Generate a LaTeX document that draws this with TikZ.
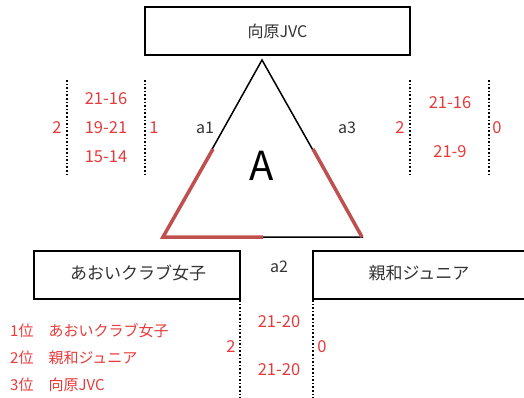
\documentclass[tikz,border=0pt]{standalone}
\usepackage{fontspec}
\setmainfont{Noto Sans CJK JP}
\definecolor{redtxt}{HTML}{E83A3A}
\definecolor{redseg}{HTML}{C0504D}
\definecolor{graytxt}{HTML}{333333}
\begin{document}
\begin{tikzpicture}[x=1pt,y=-1pt,
  teambox/.style={draw=black,line width=2pt,minimum height=48pt,inner sep=0pt,font=\fontsize{16}{19}\selectfont,text=graytxt},
  score/.style={text=redtxt,font=\fontsize{16.5}{19}\selectfont,inner sep=0pt},
  lbl/.style={text=graytxt,font=\fontsize{16}{19}\selectfont,inner sep=0pt},
  rank/.style={text=redtxt,font=\fontsize{15}{18}\selectfont,inner sep=0pt,anchor=west},
  sep/.style={dotted,line width=1.6pt},
  tri/.style={line width=1.5pt,black},
  hl/.style={line width=3.5pt,redseg}]
\useasboundingbox (0,0) rectangle (524,398);
\clip (0,0) rectangle (524,398);
% team boxes
\node[teambox,minimum width=265pt] (top) at (277.5,31.5) {向原JVC};
\node[teambox,minimum width=206pt] (bl) at (137,275) {};
\node[lbl,font=\fontsize{17}{20}\selectfont] (bltxt) at (138,273) {あおいクラブ女子};
\node[teambox,minimum width=216pt] (br) at (421,275) {};
\node[lbl,font=\fontsize{17}{20}\selectfont] (brtxt) at (419,273) {親和ジュニア};
% triangle
\coordinate (apex) at (262,60);
\coordinate (bL) at (163,237);
\coordinate (bR) at (362,237);
\draw[tri] (apex) -- (bL) -- (bR) -- cycle;
\coordinate (l1) at (213,149);
\coordinate (r1) at (313,149);
\coordinate (m1) at (263,237);
\draw[hl] (l1) -- (bL) -- (m1);
\draw[hl] (r1) -- (bR);
\node[text=black,font=\fontsize{40}{44}\selectfont,inner sep=0pt] (A) at (262,166) {A};
\node[lbl] (a1) at (205,128) {a1};
\node[lbl] (a3) at (347,128) {a3};
\node[lbl] (a2) at (279,267) {a2};
% separators
\coordinate (s1t) at (67,80); \coordinate (s1b) at (67,177);
\coordinate (s2t) at (145,80); \coordinate (s2b) at (145,177);
\coordinate (s3t) at (410,80); \coordinate (s3b) at (410,177);
\coordinate (s4t) at (489,80); \coordinate (s4b) at (489,177);
\coordinate (s5t) at (240,300); \coordinate (s5b) at (240,398);
\coordinate (s6t) at (313,300); \coordinate (s6b) at (313,398);
\draw[sep] (s1t) -- (s1b);
\draw[sep] (s2t) -- (s2b);
\draw[sep] (s3t) -- (s3b);
\draw[sep] (s4t) -- (s4b);
\draw[sep] (s5t) -- (s5b);
\draw[sep] (s6t) -- (s6b);
% scores a1
\node[score] (p1) at (57,128) {2};
\node[score] (g11) at (106,99) {21-16};
\node[score] (g12) at (106,128) {19-21};
\node[score] (g13) at (106,157) {15-14};
\node[score] (q1) at (154,128) {1};
% scores a3
\node[score] (p3) at (400,128) {2};
\node[score] (g31) at (450,103) {21-16};
\node[score] (g32) at (450,152) {21-9};
\node[score] (q3) at (497,128) {0};
% scores a2
\node[score] (p2) at (231,347) {2};
\node[score] (g21) at (279,322) {21-20};
\node[score] (g22) at (279,370) {21-20};
\node[score] (q2) at (322,347) {0};
% ranking
\node[rank] (r1t) at (10,331) {1位\hspace{1em}あおいクラブ女子};
\node[rank] (r2t) at (10,358) {2位\hspace{1em}親和ジュニア};
\node[rank] (r3t) at (10,385) {3位\hspace{1em}向原JVC};
\end{tikzpicture}
\end{document}
